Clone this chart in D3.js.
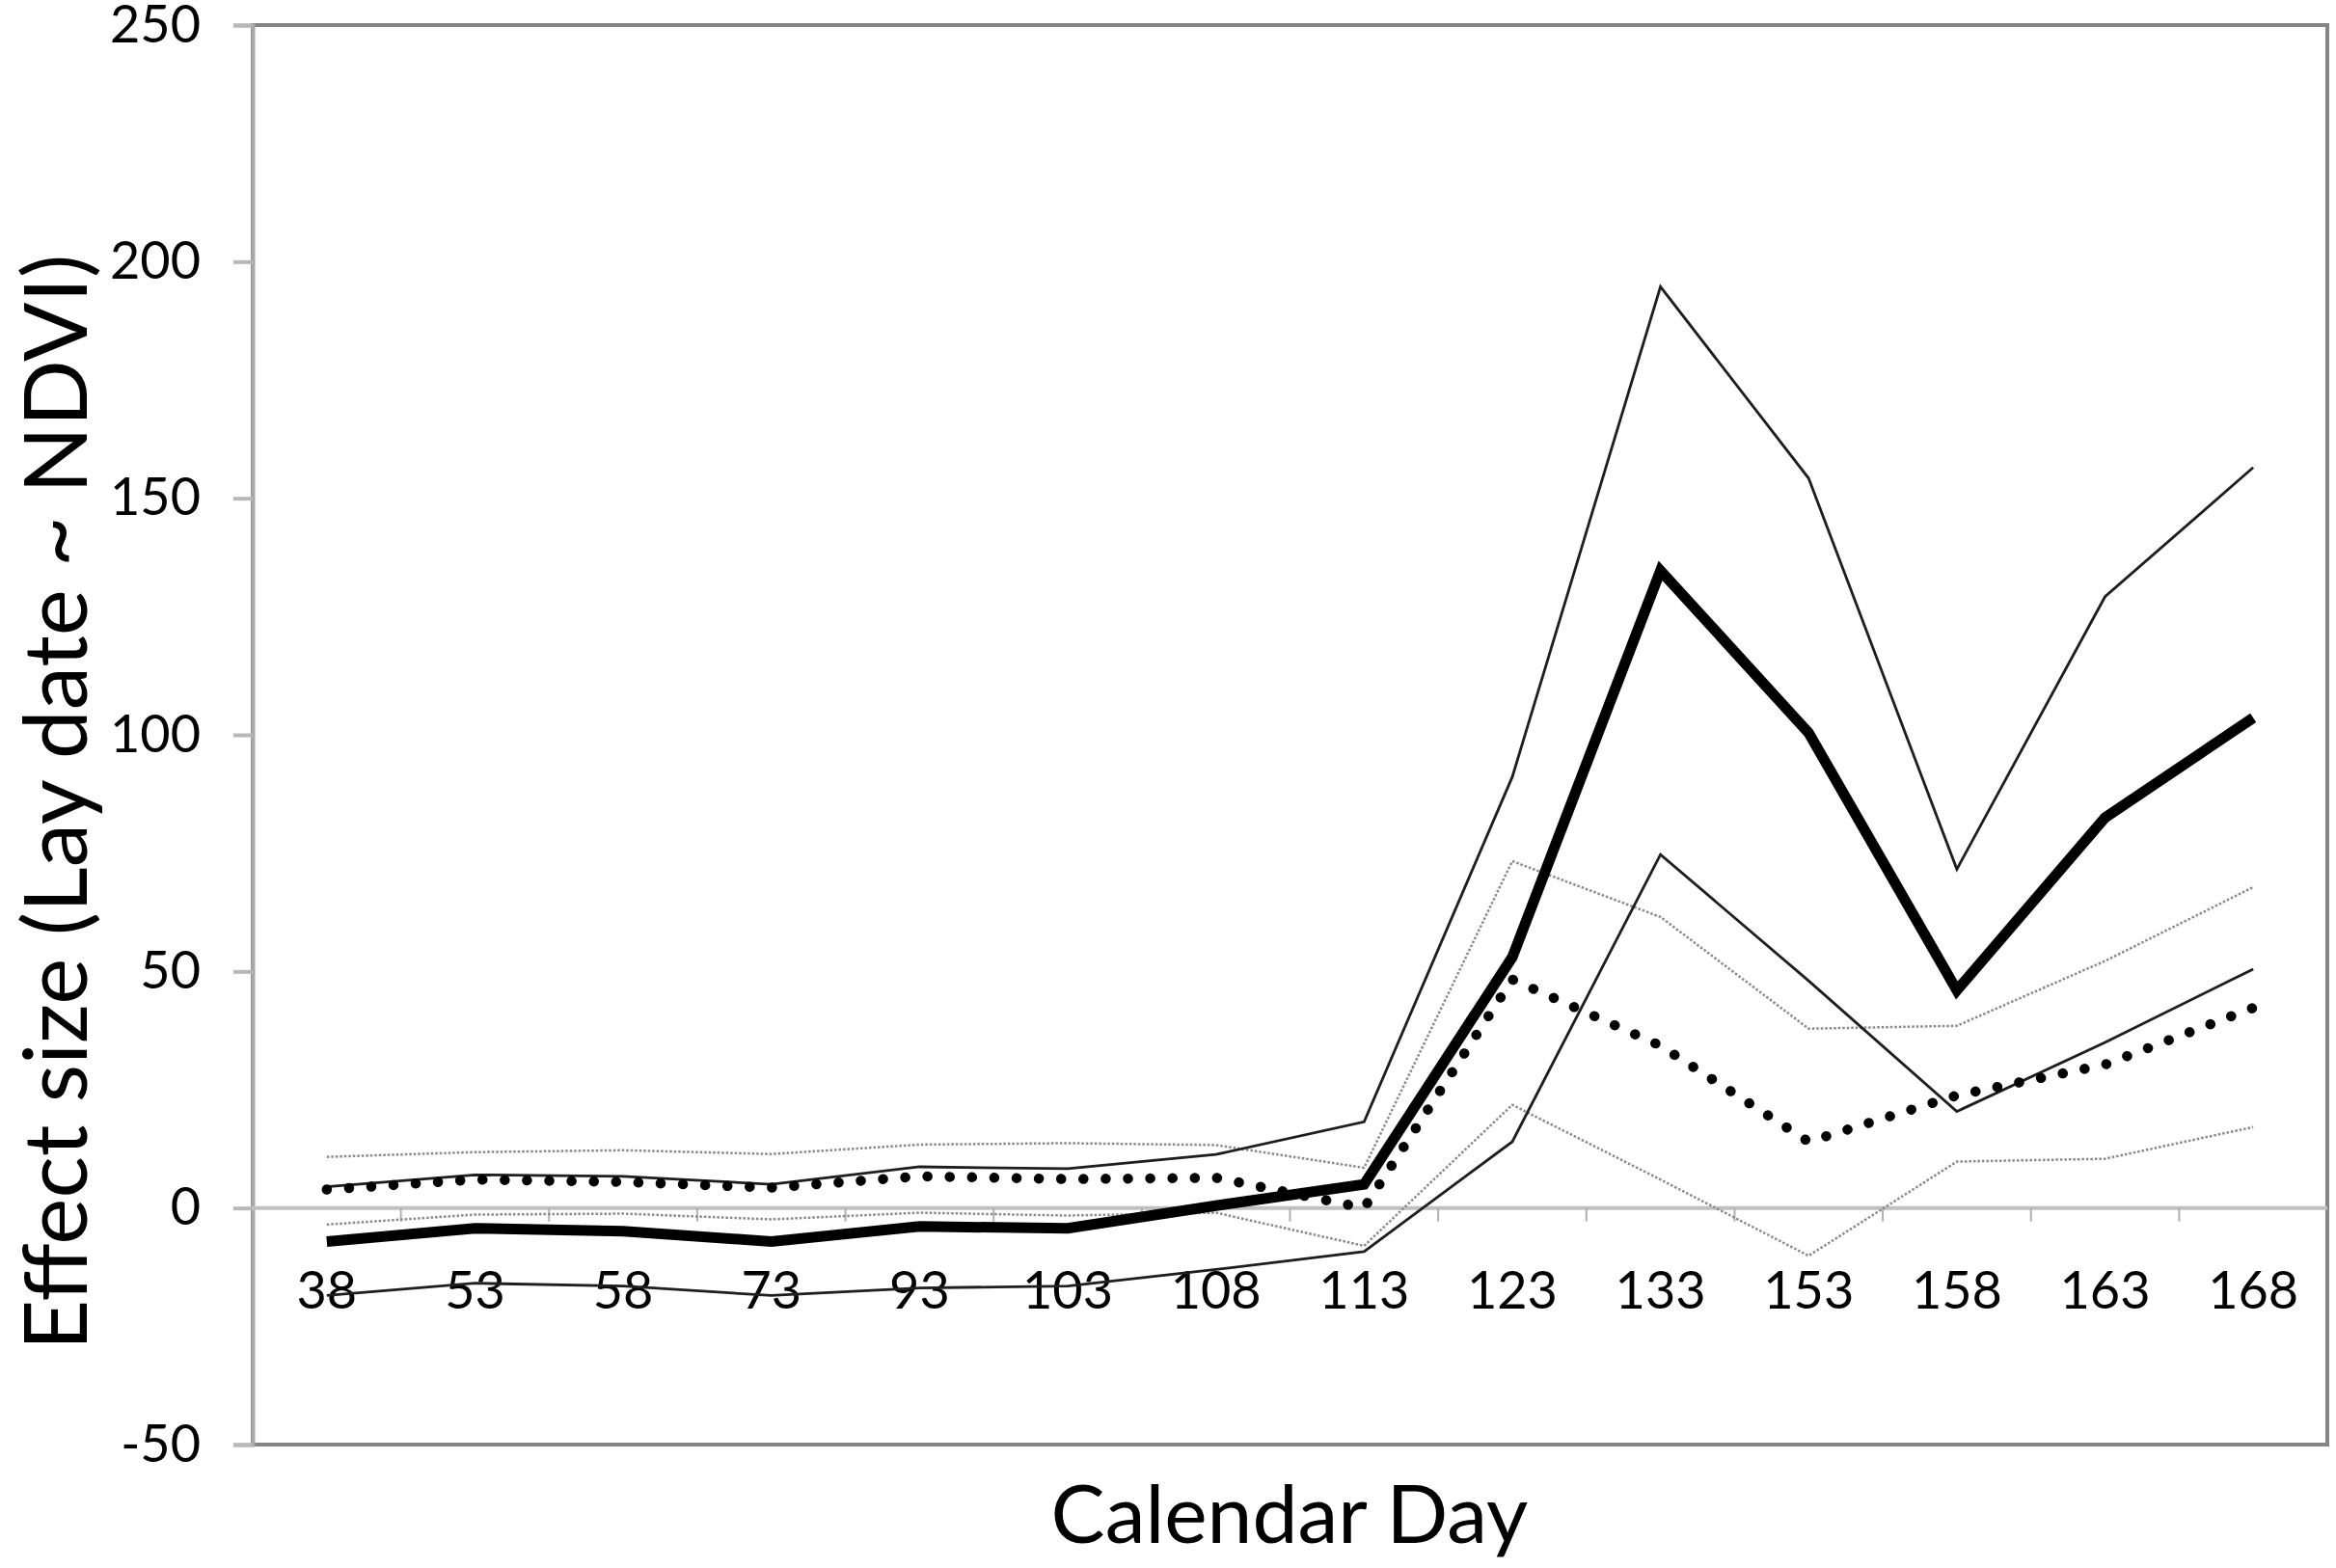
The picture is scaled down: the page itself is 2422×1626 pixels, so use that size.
<!DOCTYPE html>
<html>
<head>
<meta charset="utf-8">
<script src="https://cdn.jsdelivr.net/npm/d3@7"></script>
<style>
  body { margin: 0; background: #fff; }
  text { font-family: Lato, "Open Sans", sans-serif; fill: #000; }
</style>
</head>
<body>
<svg id="chart"></svg>
<script>
// calendar days (categories)
const days = ['38','53','58','73','93','103','108','113','123','133','153','158','163','168'];

// thick solid line and its bounds (thin solid)
const estA   = [-7.1, -4.3, -4.9, -7.1, -3.9, -4.3, 0.5, 5, 53, 134.7, 100.4, 46, 82.5, 103.6];
const upperA = [4.5, 7, 6.7, 5, 8.7, 8.3, 11.3, 18.2, 91.1, 194.7, 154.2, 71.6, 129.2, 156.5];
const lowerA = [-18.5, -15.9, -16.5, -18.5, -16.9, -16.5, -13, -9.2, 14, 74.7, 48, 20.4, 35, 50.5];

// thick dotted line and its bounds (thin dotted)
const estB   = [3.9, 6, 5.5, 4.3, 6.7, 6.1, 6.4, 0, 48.3, 34.3, 14, 23.8, 30.3, 42.3];
const upperB = [10.8, 11.8, 12.2, 11.4, 13.4, 13.7, 13.3, 8.5, 73.3, 61.5, 37.9, 38.5, 52.2, 67.8];
const lowerB = [-3.5, -1.4, -1.2, -2.4, -1, -1.6, -1, -8, 21.8, 6, -10.1, 9.8, 10.4, 17.1];

const yTicks = [-50, 0, 50, 100, 150, 200, 250];

const width = 2422, height = 1626;
const margin = {top: 26, right: 9, bottom: 128, left: 262};

const svg = d3.select('#chart')
    .attr('width', width)
    .attr('height', height);

const x = d3.scaleBand()
    .domain(days)
    .range([margin.left, width - margin.right]);

const y = d3.scaleLinear()
    .domain([-50, 250])
    .range([height - margin.bottom, margin.top]);

// plot frame
svg.append('rect')
    .attr('x', margin.left)
    .attr('y', margin.top)
    .attr('width', width - margin.left - margin.right)
    .attr('height', y(-50) - margin.top)
    .attr('fill', 'none')
    .attr('stroke', '#858585')
    .attr('stroke-width', 4);

// y axis
const yAxis = svg.append('g')
    .attr('transform', `translate(${margin.left},0)`)
    .call(d3.axisLeft(y).tickValues(yTicks).tickSize(20).tickPadding(34)
        .tickFormat(d => String(d)));
yAxis.select('.domain').attr('stroke', '#a8a8a8').attr('stroke-width', 4);
yAxis.selectAll('.tick line').attr('stroke', '#b8b8b8').attr('stroke-width', 4);
yAxis.selectAll('.tick text')
    .style('font-size', '54px')
    .style('font-family', 'Lato, "Open Sans", sans-serif')
    .attr('fill', '#000');

// zero line with category boundary ticks
svg.append('line')
    .attr('x1', margin.left)
    .attr('x2', width - margin.right)
    .attr('y1', y(0))
    .attr('y2', y(0))
    .attr('stroke', '#c0c0c0')
    .attr('stroke-width', 4);

svg.append('g')
    .selectAll('line')
    .data(days.slice(1))
    .join('line')
    .attr('x1', d => x(d))
    .attr('x2', d => x(d))
    .attr('y1', y(0))
    .attr('y2', y(0) + 14)
    .attr('stroke', '#b0b0b0')
    .attr('stroke-width', 2);

// x tick labels
svg.append('g')
    .selectAll('text')
    .data(days)
    .join('text')
    .attr('x', d => x(d) + x.bandwidth() / 2)
    .attr('y', 1357)
    .attr('text-anchor', 'middle')
    .style('font-size', '54px')
    .text(d => d);

const line = d3.line()
    .x((d, i) => x(days[i]) + x.bandwidth() / 2)
    .y(d => y(d));

function drawSeries(values, stroke, strokeWidth, dash, cap) {
    svg.append('path')
        .datum(values)
        .attr('d', line)
        .attr('fill', 'none')
        .attr('stroke', stroke)
        .attr('stroke-width', strokeWidth)
        .attr('stroke-dasharray', dash)
        .attr('stroke-linecap', cap)
        .attr('stroke-linejoin', 'miter');
}

drawSeries(upperB, '#8a8a8a', 2.5, '2.5,2', 'butt');
drawSeries(lowerB, '#8a8a8a', 2.5, '2.5,2', 'butt');
drawSeries(upperA, '#1e1e1e', 2.8, null, 'butt');
drawSeries(lowerA, '#1e1e1e', 2.8, null, 'butt');
drawSeries(estA, '#000', 11, null, 'butt');
drawSeries(estB, '#000', 10.5, '0.1,23', 'round');

// axis titles
svg.append('text')
    .attr('x', 1337)
    .attr('y', 1600)
    .attr('text-anchor', 'middle')
    .style('font-size', '84px')
    .text('Calendar Day');

svg.append('text')
    .attr('transform', `translate(90,${y(100) + 70}) rotate(-90)`)
    .attr('text-anchor', 'middle')
    .style('font-size', '91px')
    .text('Effect size (Lay date ~ NDVI)');
</script>
</body>
</html>
